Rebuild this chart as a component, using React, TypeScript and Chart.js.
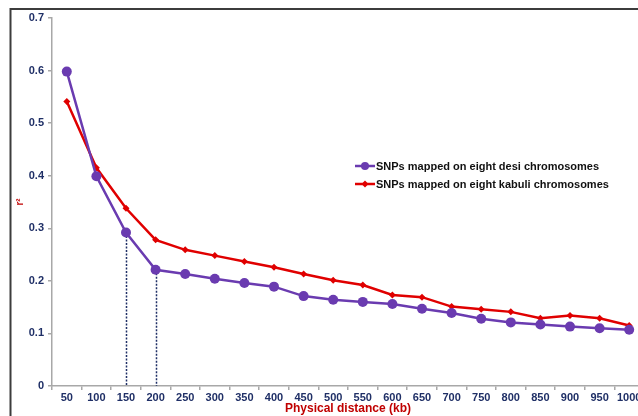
import React, { useEffect, useRef } from "react";
import { Chart, registerables } from "chart.js";

Chart.register(...registerables);

// Physical distance bins (kb)
const distances = ["50", "100", "150", "200", "250", "300", "350", "400", "450", "500",
  "550", "600", "650", "700", "750", "800", "850", "900", "950", "1000"];

// Mean r² per bin
const desiR2 = [0.598, 0.399, 0.292, 0.221, 0.213, 0.204, 0.196, 0.189, 0.171, 0.164,
  0.160, 0.156, 0.147, 0.139, 0.128, 0.121, 0.117, 0.113, 0.110, 0.107];
const kabuliR2 = [0.541, 0.415, 0.338, 0.278, 0.259, 0.248, 0.237, 0.226, 0.213, 0.201,
  0.192, 0.173, 0.169, 0.151, 0.146, 0.141, 0.129, 0.134, 0.129, 0.115];

// Bins where a dotted drop line marks the desi decay
const dropLineBins = ["150", "200"];

const yTicks = [0, 0.1, 0.2, 0.3, 0.4, 0.5, 0.6, 0.7];

const desiLabel = "SNPs mapped on eight desi chromosomes";
const kabuliLabel = "SNPs mapped on eight kabuli chromosomes";

const PURPLE = "#6a3bb0";
const RED = "#e00000";
const NAVY = "#1f2f66";
const TITLE_RED = "#c00000";
const AXIS_GREY = "#a8a8a8";
const FONT = "'Liberation Sans', Arial, sans-serif";

const framePlugin = {
  id: "frame",
  afterDraw(chart: any) {
    const ctx = chart.ctx;
    ctx.save();
    ctx.strokeStyle = "#3c3c3c";
    ctx.lineWidth = 2;
    ctx.beginPath();
    ctx.moveTo(10.5, chart.height);
    ctx.lineTo(10.5, 9);
    ctx.lineTo(chart.width, 9);
    ctx.stroke();
    ctx.restore();
  },
};

const dropLinePlugin = {
  id: "dropLines",
  beforeDatasetsDraw(chart: any) {
    const ctx = chart.ctx;
    const meta = chart.getDatasetMeta(0);
    const bottom = chart.chartArea.bottom;
    ctx.save();
    ctx.strokeStyle = NAVY;
    ctx.lineWidth = 1.5;
    ctx.setLineDash([2, 1.5]);
    dropLineBins.forEach((bin) => {
      const idx = distances.indexOf(bin);
      const pt = meta.data[idx];
      if (!pt) return;
      ctx.beginPath();
      ctx.moveTo(Math.round(pt.x) + 0.5, pt.y);
      ctx.lineTo(Math.round(pt.x) + 0.5, bottom);
      ctx.stroke();
    });
    ctx.restore();
  },
};

const legendPlugin = {
  id: "insideLegend",
  afterDraw(chart: any) {
    const ctx = chart.ctx;
    const items = [
      { text: desiLabel, color: PURPLE, style: "circle", y: 166 },
      { text: kabuliLabel, color: RED, style: "diamond", y: 184 },
    ];
    ctx.save();
    items.forEach((it) => {
      const x0 = 355;
      const x1 = 375;
      ctx.strokeStyle = it.color;
      ctx.lineWidth = 2.5;
      ctx.beginPath();
      ctx.moveTo(x0, it.y);
      ctx.lineTo(x1, it.y);
      ctx.stroke();
      ctx.fillStyle = it.color;
      const cx = (x0 + x1) / 2;
      ctx.beginPath();
      if (it.style === "circle") {
        ctx.arc(cx, it.y, 4, 0, Math.PI * 2);
      } else {
        ctx.moveTo(cx, it.y - 3.5);
        ctx.lineTo(cx + 3.5, it.y);
        ctx.lineTo(cx, it.y + 3.5);
        ctx.lineTo(cx - 3.5, it.y);
        ctx.closePath();
      }
      ctx.fill();
      ctx.fillStyle = "#111111";
      ctx.font = `bold 11px ${FONT}`;
      ctx.textBaseline = "middle";
      ctx.textAlign = "left";
      ctx.fillText(it.text, x1 + 1, it.y + 0.5);
    });
    ctx.restore();
  },
};

export default function App() {
  const canvasRef = useRef<HTMLCanvasElement | null>(null);

  useEffect(() => {
    const canvas = canvasRef.current;
    if (!canvas) return;
    const chart = new Chart(canvas, {
      type: "line",
      data: {
        labels: distances,
        datasets: [
          {
            label: desiLabel,
            data: desiR2,
            borderColor: PURPLE,
            backgroundColor: PURPLE,
            borderWidth: 2.5,
            pointStyle: "circle",
            pointRadius: 5,
            pointBorderWidth: 0,
            tension: 0,
          },
          {
            label: kabuliLabel,
            data: kabuliR2,
            borderColor: RED,
            backgroundColor: RED,
            borderWidth: 2.5,
            pointStyle: "rectRot",
            pointRadius: 3.5,
            pointBorderWidth: 0,
            tension: 0,
          },
        ],
      },
      options: {
        animation: false,
        responsive: false,
        devicePixelRatio: 1,
        layout: { padding: { top: 18, right: 16, bottom: 0, left: 0 } },
        plugins: {
          legend: { display: false },
          tooltip: { enabled: false },
        },
        scales: {
          x: {
            type: "category",
            offset: true,
            grid: {
              offset: true,
              drawOnChartArea: false,
              drawTicks: true,
              tickLength: 4,
              color: AXIS_GREY,
              lineWidth: 1.5,
            },
            border: { display: true, color: AXIS_GREY, width: 1.5 },
            ticks: {
              color: NAVY,
              font: { family: FONT, size: 11, weight: "bold" },
              padding: 1,
              maxRotation: 0,
              autoSkip: false,
            },
            title: {
              display: true,
              text: "Physical distance (kb)",
              color: TITLE_RED,
              font: { family: FONT, size: 12, weight: "bold" },
              padding: { top: 0, bottom: 0 },
            },
            afterFit(scale: any) {
              scale.height = 30;
            },
          },
          y: {
            min: 0,
            max: 0.7,
            afterBuildTicks(scale: any) {
              scale.ticks = yTicks.map((v) => ({ value: v }));
            },
            grid: {
              drawOnChartArea: false,
              drawTicks: true,
              tickLength: 4,
              color: AXIS_GREY,
              lineWidth: 1.5,
            },
            border: { display: true, color: AXIS_GREY, width: 1.5 },
            ticks: {
              color: NAVY,
              font: { family: FONT, size: 11, weight: "bold" },
              padding: 4,
              callback: (v: any) => String(Math.round(Number(v) * 10) / 10),
            },
            title: {
              display: true,
              text: "r²",
              color: TITLE_RED,
              font: { family: FONT, size: 10, weight: "bold" },
              padding: { top: 14, bottom: 0 },
            },
            afterFit(scale: any) {
              scale.width = 52;
            },
          },
        },
      },
      plugins: [dropLinePlugin, legendPlugin, framePlugin],
    } as any);
    return () => chart.destroy();
  }, []);

  return (
    <div
      style={{
        position: "fixed",
        left: 0,
        top: 0,
        width: 638,
        height: 416,
        overflow: "hidden",
        background: "#ffffff",
      }}
    >
      <canvas ref={canvasRef} width={660} height={416} style={{ display: "block" }} />
    </div>
  );
}
